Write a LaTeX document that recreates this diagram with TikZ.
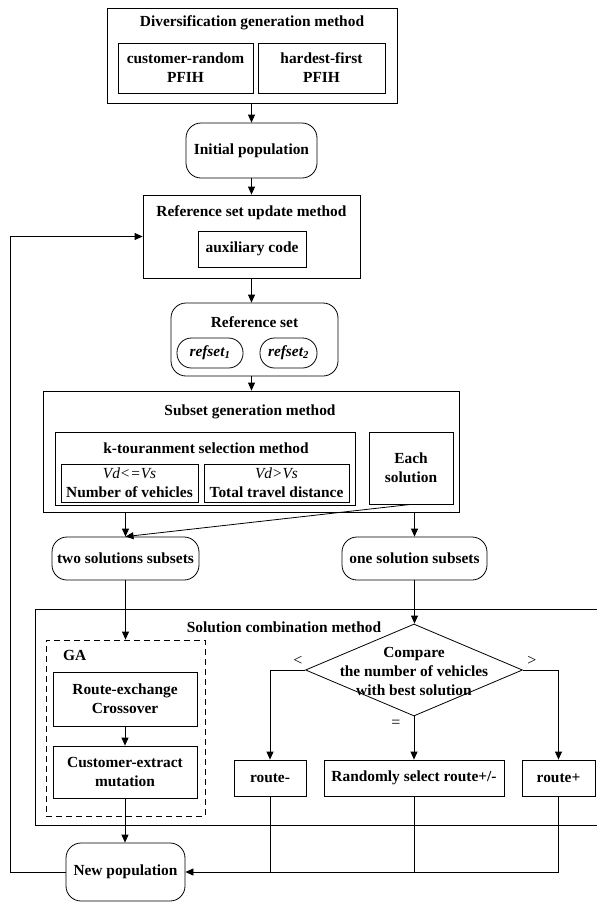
\documentclass[tikz,border=0pt]{standalone}
\usepackage{fontspec}
\setmainfont{Liberation Serif}
\usetikzlibrary{arrows.meta,shapes.geometric}

\tikzset{
  txt/.style={inner sep=0pt, align=center, font=\fontsize{15.4}{19}\selectfont\bfseries},
  box/.style={txt, draw, line width=0.8pt},
  rbox/.style={box, rounded corners=15pt},
  pill/.style={box, rounded corners=14.5pt},
  dashbox/.style={draw, line width=0.8pt, dash pattern=on 6pt off 4pt},
  arr/.style={line width=0.8pt, -{Triangle[length=8pt,width=7pt]}},
  ln/.style={line width=0.8pt},
  sym/.style={inner sep=0pt, font=\fontsize{16}{19}\selectfont},
}

\begin{document}
\begin{tikzpicture}[x=1pt,y=-1pt]
\useasboundingbox (0,0) rectangle (597,903);
\clip (0,0) rectangle (597,903);

% Diversification generation
\node[box, minimum width=290, minimum height=95] (div) at (252,55.5) {};
\node[txt] (divt) at (252,23) {Diversification generation method};
\node[box, minimum width=135, minimum height=50] (cr) at (185.5,68) {customer-random\\PFIH};
\node[box, minimum width=127, minimum height=50] (hf) at (321.5,68) {hardest-first\\PFIH};

% Initial population
\node[rbox, minimum width=131, minimum height=55] (init) at (251.5,150.5) {Initial population};

% Reference set update
\node[box, minimum width=217, minimum height=83] (refup) at (251.5,236.5) {};
\node[txt] (refupt) at (251.5,213) {Reference set update method};
\node[box, minimum width=108, minimum height=36] (aux) at (252,249) {auxiliary code};

% Reference set
\node[rbox, minimum width=167, minimum height=73] (refset) at (254.5,339.5) {};
\node[txt] (refsett) at (254.5,322) {Reference set};
\node[pill, minimum width=66, minimum height=30] (rs1) at (210,353) {\itshape refset\textsubscript{1}};
\node[pill, minimum width=57, minimum height=30] (rs2) at (288.5,353) {\itshape refset\textsubscript{2}};

% Subset generation
\node[box, minimum width=416, minimum height=121] (subset) at (251,451.5) {};
\node[txt] (subsett) at (250,412) {Subset generation method};
\node[box, minimum width=300, minimum height=73] (ktour) at (205,468.5) {};
\node[txt] (ktourt) at (206,448) {k-touranment selection method};
\node[box, minimum width=137, minimum height=38] (vd1) at (129.5,483) {{\mdseries\itshape Vd<=Vs}\\Number of vehicles};
\node[box, minimum width=145, minimum height=38] (vd2) at (276.5,483) {{\mdseries\itshape Vd>Vs}\\Total travel distance};
\node[box, minimum width=84, minimum height=72] (each) at (411,468) {Each\\solution};

% Subsets
\node[rbox, minimum width=147, minimum height=43] (two) at (125.5,558.5) {two solutions subsets};
\node[rbox, minimum width=145, minimum height=43] (one) at (414.5,558.5) {one solution subsets};

% Solution combination
\node[box, minimum width=580, minimum height=216] (comb) at (325,717) {};
\node[txt] (combt) at (284,627) {Solution combination method};

\node[dashbox, minimum width=159, minimum height=176] (ga) at (125.5,728) {};
\node[txt, anchor=west] (gat) at (63,655) {GA};
\node[box, minimum width=144, minimum height=54] (re) at (125,699) {Route-exchange\\Crossover};
\node[box, minimum width=144, minimum height=52] (ce) at (125,772) {Customer-extract\\mutation};

\node[draw, line width=0.8pt, diamond, minimum width=217, minimum height=92, inner sep=0pt] (cmp) at (414,670) {};
\node[txt] (cmpt) at (414,671) {Compare\\the number of vehicles\\with best solution};

\node[box, minimum width=72, minimum height=36] (rminus) at (270,778) {route-};
\node[box, minimum width=180, minimum height=36] (rand) at (414,778) {Randomly select route+/-};
\node[box, minimum width=73, minimum height=36] (rplus) at (558.5,778) {route+};

% New population
\node[rbox, minimum width=119, minimum height=58] (newpop) at (125.5,872) {New population};

% Connectors
\draw[arr] (div.south -| init.north) -- (init.north);
\draw[arr] (init.south) -- (init.south |- refup.north);
\draw[arr] (refup.south) -- (refup.south |- refset.north);
\draw[arr] (refset.south -| refup.south) -- (refup.south |- subset.north);

\draw[arr] (subset.south -| two.north) -- (two.north);
\draw[arr] (each.south) -- (two.north);
\draw[arr] (subset.south -| one.north) -- (one.north);

\draw[arr] (two.south) -- (two.south |- ga.north);
\draw[arr] (one.south) -- (one.south |- cmp.north);
\draw[arr] (re.south) -- (ce.north);
\draw[arr] (ce.south) -- (ce.south |- newpop.north);

\draw[arr] (cmp.west) -| (rminus.north);
\draw[arr] (cmp.east) -| (rplus.north);
\draw[arr] (cmp.south) -- (rand.north);
\node[sym] (lt) at (298,661) {<};
\node[sym] (gt) at (532,661) {>};
\node[sym] (eq) at (396,724) {=};

\draw[arr] (rplus.south) |- (newpop.east);
\draw[ln] (rminus.south) -- (rminus.south |- newpop.east);
\draw[ln] (rand.south) -- (rand.south |- newpop.east);

\coordinate (fb) at (10,872);
\draw[arr] (newpop.west) -- (fb) |- (refup.west);
\end{tikzpicture}
\end{document}
